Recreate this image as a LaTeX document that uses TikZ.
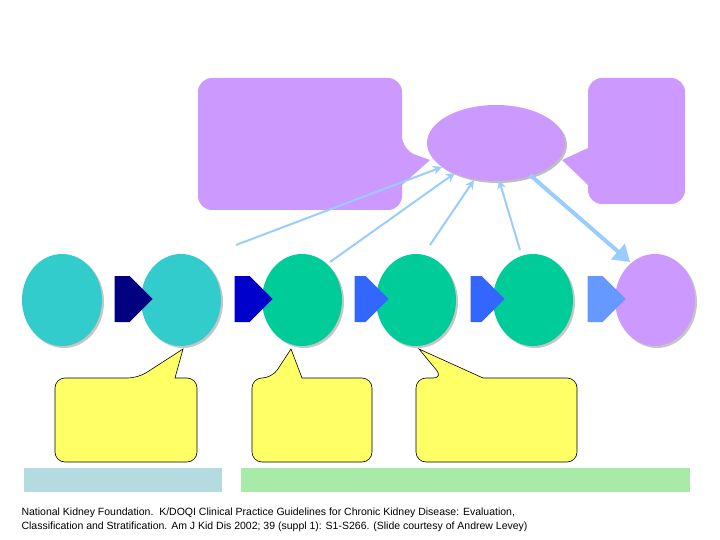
\documentclass[tikz,border=0pt]{standalone}
\usepackage{fontspec}
\setmainfont{Liberation Sans}
\usetikzlibrary{shapes.arrows,shapes.geometric,arrows.meta}
\definecolor{cyanc}{HTML}{33CCCC}
\definecolor{greenc}{HTML}{00CC99}
\definecolor{purp}{HTML}{CC99FF}
\definecolor{yel}{HTML}{FFFF66}
\definecolor{lb}{HTML}{99CCFF}
\definecolor{bar1}{HTML}{B4DCE0}
\definecolor{bar2}{HTML}{A8EBA8}
\begin{document}
\begin{tikzpicture}[x=1pt,y=-1pt,
 stage/.style={ellipse,minimum width=80,minimum height=92,inner sep=0},
 blk/.style={single arrow,minimum height=38,minimum width=46,single arrow head extend=0,inner sep=0,shape border rotate=0,draw=none},
 link/.style={lb,line width=2,-{Stealth[length=9,width=9]}},
 call/.style={fill=yel,draw=black,line width=0.6,rounded corners=10}]
\useasboundingbox (0,0) rectangle (720,540);
% top purple callouts
\fill[purp,rounded corners=14] (198,78) -- (402,78) -- (402,150) [sharp corners]-- (430,160) -- (402,185) [rounded corners=14]-- (402,210) -- (198,210) -- cycle;
\fill[purp,rounded corners=14] (588,78) -- (685,78) -- (685,204) -- (588,204) [sharp corners]-- (588,185) -- (562,160) -- (588,148) [rounded corners=14]-- cycle;
\fill[gray!50] (498,145) ellipse [x radius=69,y radius=38];
\node[ellipse,fill=purp,minimum width=138,minimum height=76,inner sep=0] (top) at (496,143) {};
% stages
\foreach \n/\x/\c in {s1/62/cyanc,s2/181/cyanc,s3/302/greenc,s4/416/greenc,s5/533/greenc,s6/655/purp}{
 \fill[gray!45] (\x+2,302) ellipse [x radius=40,y radius=46];
 \node[stage,fill=\c] (\n) at (\x,300) {};}
% block arrows
\node[blk,fill={rgb,255:red,0;green,0;blue,128}] (a1) at (122,299) {};
\node[blk,fill={rgb,255:red,0;green,0;blue,204}] (a2) at (242,299) {};
\node[blk,fill={rgb,255:red,51;green,102;blue,255},minimum height=34] (a3) at (360,299) {};
\node[blk,fill={rgb,255:red,51;green,102;blue,255},minimum height=34] (a4) at (476,299) {};
\node[blk,fill={rgb,255:red,102;green,153;blue,255}] (a5) at (595,299) {};
% thin links
\coordinate (b1) at (236,245); \coordinate (b2) at (330,262);
\coordinate (b3) at (430,245); \coordinate (b4) at (520,250);
\coordinate (t1) at (442,167); \coordinate (t2) at (455,173);
\coordinate (t3) at (474,180); \coordinate (t4) at (499,180);
\coordinate (t5) at (530,175); \coordinate (e6) at (630,262);
\draw[link] (b1) -- (t1);
\draw[link] (b2) -- (t2);
\draw[link] (b3) -- (t3);
\draw[link] (b4) -- (t4);
\draw[lb,line width=4,-{Triangle[length=16,width=20]}] (t5) -- (e6);
% yellow callouts
\draw[call] (55,378) -- (138,378) [sharp corners]-- (183,349) -- (175,378) [rounded corners=10]-- (197,378) -- (197,462) -- (55,462) -- cycle;
\draw[call] (252,378) -- (272,378) [sharp corners]-- (291,349) -- (302,378) [rounded corners=10]-- (372,378) -- (372,462) -- (252,462) -- cycle;
\draw[call] (416,378) -- (443,378) [sharp corners]-- (419,349) -- (483,378) [rounded corners=10]-- (577,378) -- (577,462) -- (416,462) -- cycle;
% bars
\fill[bar1] (24,468) rectangle (222,492);
\fill[bar2] (241,468) rectangle (690,492);
\node[anchor=west,font=\fontsize{10.5}{14}\selectfont,align=left] (ref) at (18,520) {National Kidney Foundation.\ \ K/DOQI Clinical Practice Guidelines for Chronic Kidney Disease: Evaluation,\\Classification and Stratification. Am J Kid Dis 2002; 39 (suppl 1): S1-S266. (Slide courtesy of Andrew Levey)};
\end{tikzpicture}
\end{document}
